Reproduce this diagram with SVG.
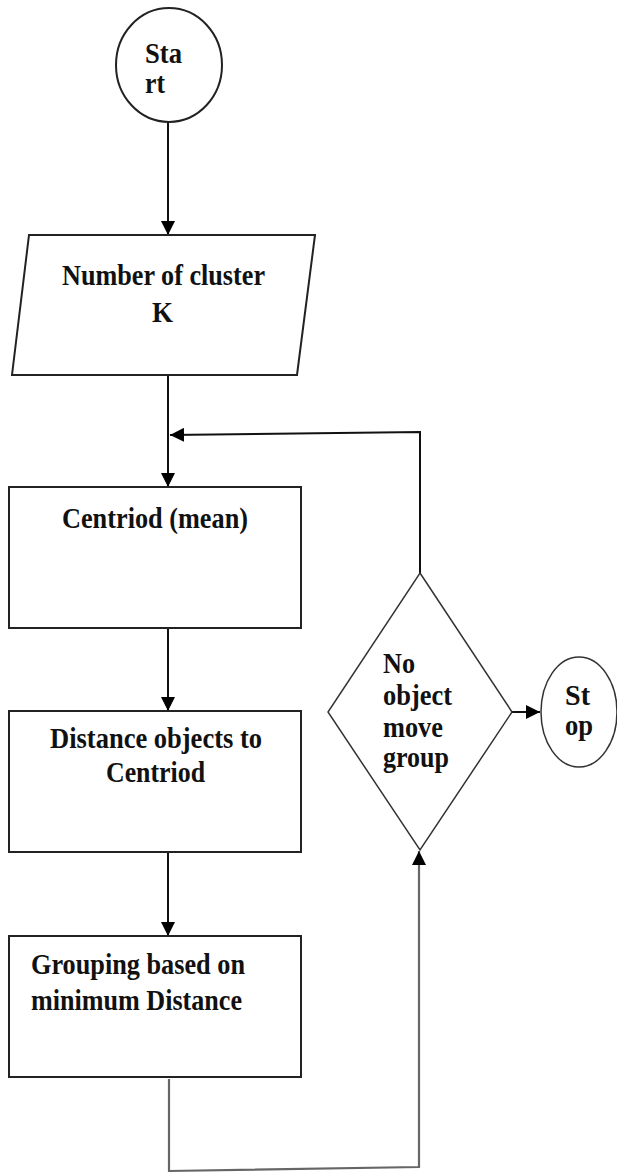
<svg xmlns="http://www.w3.org/2000/svg" width="617" height="1174" viewBox="0 0 617 1174">
<style>
.shape{fill:#fff;stroke:#222;stroke-width:2}
.thin{fill:#fff;stroke:#333;stroke-width:1.5}
.lbl{font-family:'Liberation Serif','DejaVu Serif',serif;font-weight:bold;font-size:30px;fill:#111}
.conn{fill:none;stroke:#111;stroke-width:2}
.conn2{fill:none;stroke:#666;stroke-width:2.2}
</style>
<defs>
<marker id="arr" viewBox="0 0 14 14" refX="14" refY="7" markerWidth="14" markerHeight="14" markerUnits="userSpaceOnUse" orient="auto">
<path d="M0,0 L14,7 L0,14 z" fill="#000"/>
</marker>
</defs>
<rect width="617" height="1174" fill="#fff"/>
<g id="connectors">
<line class="conn" x1="168" y1="122" x2="168" y2="235" marker-end="url(#arr)"/>
<line class="conn" x1="168" y1="375" x2="168" y2="487" marker-end="url(#arr)"/>
<polyline class="conn" points="420,573 420,432 170,435" marker-end="url(#arr)"/>
<line class="conn" x1="168" y1="628" x2="168" y2="711" marker-end="url(#arr)"/>
<line class="conn" x1="168" y1="852" x2="168" y2="936" marker-end="url(#arr)"/>
<polyline class="conn2" points="169,1079 169,1171 419,1167 419,851" marker-end="url(#arr)"/>
<line class="conn" x1="512" y1="712" x2="540" y2="712" marker-end="url(#arr)"/>
</g>
<g id="start">
<ellipse class="shape" cx="169" cy="65" rx="53" ry="57"/>
<text class="lbl" x="145" y="63" textLength="37" lengthAdjust="spacingAndGlyphs">Sta</text>
<text class="lbl" x="145" y="93" textLength="20" lengthAdjust="spacingAndGlyphs">rt</text>
</g>
<g id="input">
<polygon class="shape" points="29,235 315,235 297,375 12,375"/>
<text class="lbl" x="62" y="285" textLength="203" lengthAdjust="spacingAndGlyphs">Number of cluster</text>
<text class="lbl" x="152" y="322" textLength="21" lengthAdjust="spacingAndGlyphs">K</text>
</g>
<g id="centroid">
<rect class="shape" x="9" y="487" width="292" height="141"/>
<text class="lbl" x="62" y="528" textLength="186" lengthAdjust="spacingAndGlyphs">Centriod (mean)</text>
</g>
<g id="distance">
<rect class="shape" x="9" y="711" width="292" height="141"/>
<text class="lbl" x="50" y="748" textLength="212" lengthAdjust="spacingAndGlyphs">Distance objects to</text>
<text class="lbl" x="106" y="782" textLength="99" lengthAdjust="spacingAndGlyphs">Centriod</text>
</g>
<g id="grouping">
<rect class="shape" x="9" y="936" width="292" height="141"/>
<text class="lbl" x="31" y="974" textLength="214" lengthAdjust="spacingAndGlyphs">Grouping based on</text>
<text class="lbl" x="31" y="1010" textLength="211" lengthAdjust="spacingAndGlyphs">minimum Distance</text>
</g>
<g id="decision">
<polygon class="thin" points="420,573 512,712 420,850 328,712"/>
<text class="lbl" x="383" y="673" textLength="32" lengthAdjust="spacingAndGlyphs">No</text>
<text class="lbl" x="383" y="705" textLength="69" lengthAdjust="spacingAndGlyphs">object</text>
<text class="lbl" x="383" y="737" textLength="60" lengthAdjust="spacingAndGlyphs">move</text>
<text class="lbl" x="383" y="767" textLength="66" lengthAdjust="spacingAndGlyphs">group</text>
</g>
<g id="stop">
<ellipse class="thin" cx="579" cy="712" rx="38" ry="55"/>
<text class="lbl" x="565" y="705" textLength="25" lengthAdjust="spacingAndGlyphs">St</text>
<text class="lbl" x="565" y="735" textLength="28" lengthAdjust="spacingAndGlyphs">op</text>
</g>
</svg>
